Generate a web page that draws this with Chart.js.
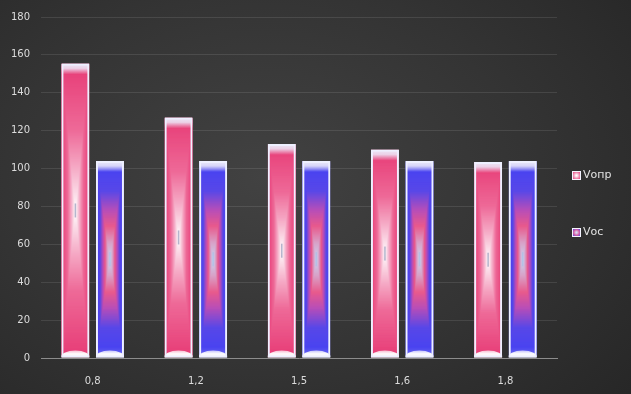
<!DOCTYPE html>
<html lang="ru">
<head>
<meta charset="UTF-8">
<title>Vопр / Vос</title>
<script src="https://cdn.jsdelivr.net/npm/chart.js"></script>
<style>
  html, body { margin: 0; padding: 0; }
  body {
    width: 631px; height: 394px; overflow: hidden; position: relative;
    background: radial-gradient(ellipse 75% 85% at 42% 45%, #424242 0%, #343434 55%, #272727 100%);
    font-family: "DejaVu Sans", sans-serif;
  }
  #chartBox { position: absolute; left: 0; top: 0; width: 631px; height: 394px; }
  #legend { position: absolute; left: 572px; top: 0; }
  .item { position: absolute; left: 0; display: flex; align-items: center; white-space: nowrap;
          color: #e2e2e2; font-size: 11px; line-height: 12px; }
  .box { width: 7px; height: 7px; border: 1px solid #f4f4ff; margin-right: 2px; }
</style>
</head>
<body>
<div id="chartBox"><canvas id="barChart" width="631" height="394"></canvas></div>
<div id="legend"></div>

<script>
// data
const categories = ['0,8', '1,2', '1,5', '1,6', '1,8'];
const seriesNames = ['Vопр', 'Vос'];
const vOpr = [155.5, 127, 113, 110, 103.5];
const vOs = [104, 104, 104, 104, 104];
const yMax = 180;
const yStep = 20;

// fill look for each series: colour from edge (t=1) to centre (t=0)
const fills = [
  [[1, '#e73c76'], [0.55, '#ee6a98'], [0.3, '#f5a8c4'], [0.1, '#fbe0ea'], [0, '#ffffff']],
  [[1, '#7474f2'], [0.9, '#4a44f0'], [0.7, '#5848e8'], [0.5, '#b84eb8'], [0.34, '#e85a8c'], [0.17, '#d8a2c8'], [0, '#c8d4f0']]
];
const legendBoxes = [
  'radial-gradient(circle, #ffffff 10%, #f08cb2 60%, #e8467c 100%)',
  'radial-gradient(circle, #d8d8f4 10%, #d860a0 55%, #5048f0 100%)'
];

function hexToRgb(h) {
  const n = parseInt(h.slice(1), 16);
  return [(n >> 16) & 255, (n >> 8) & 255, n & 255];
}

function colorAt(stops, t) {
  for (let i = 0; i < stops.length - 1; i++) {
    const a = stops[i], b = stops[i + 1];
    if (t <= a[0] && t >= b[0]) {
      const f = (a[0] - t) / (a[0] - b[0] || 1);
      const ca = hexToRgb(a[1]), cb = hexToRgb(b[1]);
      const c = ca.map((v, k) => Math.round(v + (cb[k] - v) * f));
      return 'rgb(' + c.join(',') + ')';
    }
  }
  return stops[stops.length - 1][1];
}

// paints the glassy fill inside every bar, using the positions chart.js gave the bars
const barPaint = {
  id: 'barPaint',
  beforeDatasetsDraw(chart) {
    const c = chart.ctx;
    chart.data.datasets.forEach((ds, di) => {
      const meta = chart.getDatasetMeta(di);
      meta.data.forEach(bar => {
        const p = bar.getProps(['x', 'y', 'base', 'width'], true);
        const left = p.x - p.width / 2;
        const top = Math.min(p.y, p.base);
        const w = p.width, h = Math.abs(p.base - p.y);
        const cx = left + w / 2, cy = top + h / 2;
        c.save();
        c.beginPath();
        c.rect(left, top, w, h);
        c.clip();
        const N = 140;
        for (let k = 0; k <= N; k++) {
          const t = 1 - k / N;
          c.fillStyle = colorAt(fills[di], t);
          c.fillRect(cx - w * t / 2, cy - h * t / 2, w * t, h * t);
        }
        // top light band
        const g = c.createLinearGradient(0, top, 0, top + 11);
        g.addColorStop(0, 'rgba(236,234,250,1)');
        g.addColorStop(0.45, 'rgba(236,234,250,0.85)');
        g.addColorStop(1, 'rgba(236,234,250,0)');
        c.fillStyle = g;
        c.fillRect(left, top, w, 11);
        // bottom white arc
        const bottom = top + h;
        const g2 = c.createLinearGradient(0, bottom - 8, 0, bottom);
        g2.addColorStop(0, 'rgba(255,255,255,0.55)');
        g2.addColorStop(0.5, 'rgba(255,255,255,0.95)');
        g2.addColorStop(1, 'rgba(255,255,255,1)');
        c.fillStyle = g2;
        c.beginPath();
        c.ellipse(cx, bottom + 1, w * 0.55, 8, 0, 0, Math.PI * 2);
        c.fill();
        // small mark in the middle
        c.fillStyle = di === 0 ? 'rgba(120,130,170,0.55)' : 'rgba(170,190,230,0.7)';
        c.fillRect(cx - 0.75, cy - 7, 1.5, 14);
        c.restore();
      });
    });
  }
};

const tickFont = { family: 'DejaVu Sans', size: 10 };

const chart = new Chart(document.getElementById('barChart'), {
  type: 'bar',
  data: {
    labels: categories,
    datasets: [
      { label: seriesNames[0], data: vOpr },
      { label: seriesNames[1], data: vOs }
    ].map(d => Object.assign(d, {
      backgroundColor: 'rgba(0,0,0,0)',
      borderColor: '#eef0ff',
      borderWidth: 2,
      borderSkipped: false,
      categoryPercentage: 0.67,
      barPercentage: 0.81
    }))
  },
  options: {
    responsive: false,
    devicePixelRatio: 1,
    animation: false,
    layout: { padding: { top: 5, left: 0, right: 74, bottom: -10 } },
    plugins: { legend: { display: false }, tooltip: { enabled: false } },
    scales: {
      x: {
        grid: { display: false, drawTicks: false },
        border: { color: '#8c8c8c', width: 1 },
        ticks: { color: '#dcdcdc', font: tickFont, padding: 17 }
      },
      y: {
        min: 0,
        max: yMax,
        ticks: { stepSize: yStep, color: '#dcdcdc', font: tickFont, padding: 11 },
        grid: { color: 'rgba(255,255,255,0.10)', drawTicks: false },
        border: { display: false }
      }
    }
  },
  plugins: [barPaint]
});

// legend as html, built from the series names
const legendEl = document.getElementById('legend');
seriesNames.forEach((name, i) => {
  const item = document.createElement('div');
  item.className = 'item';
  item.style.top = (169 + i * 57) + 'px';
  const box = document.createElement('span');
  box.className = 'box';
  box.style.background = legendBoxes[i];
  const txt = document.createElement('span');
  txt.textContent = name;
  item.appendChild(box);
  item.appendChild(txt);
  legendEl.appendChild(item);
});
</script>
</body>
</html>
